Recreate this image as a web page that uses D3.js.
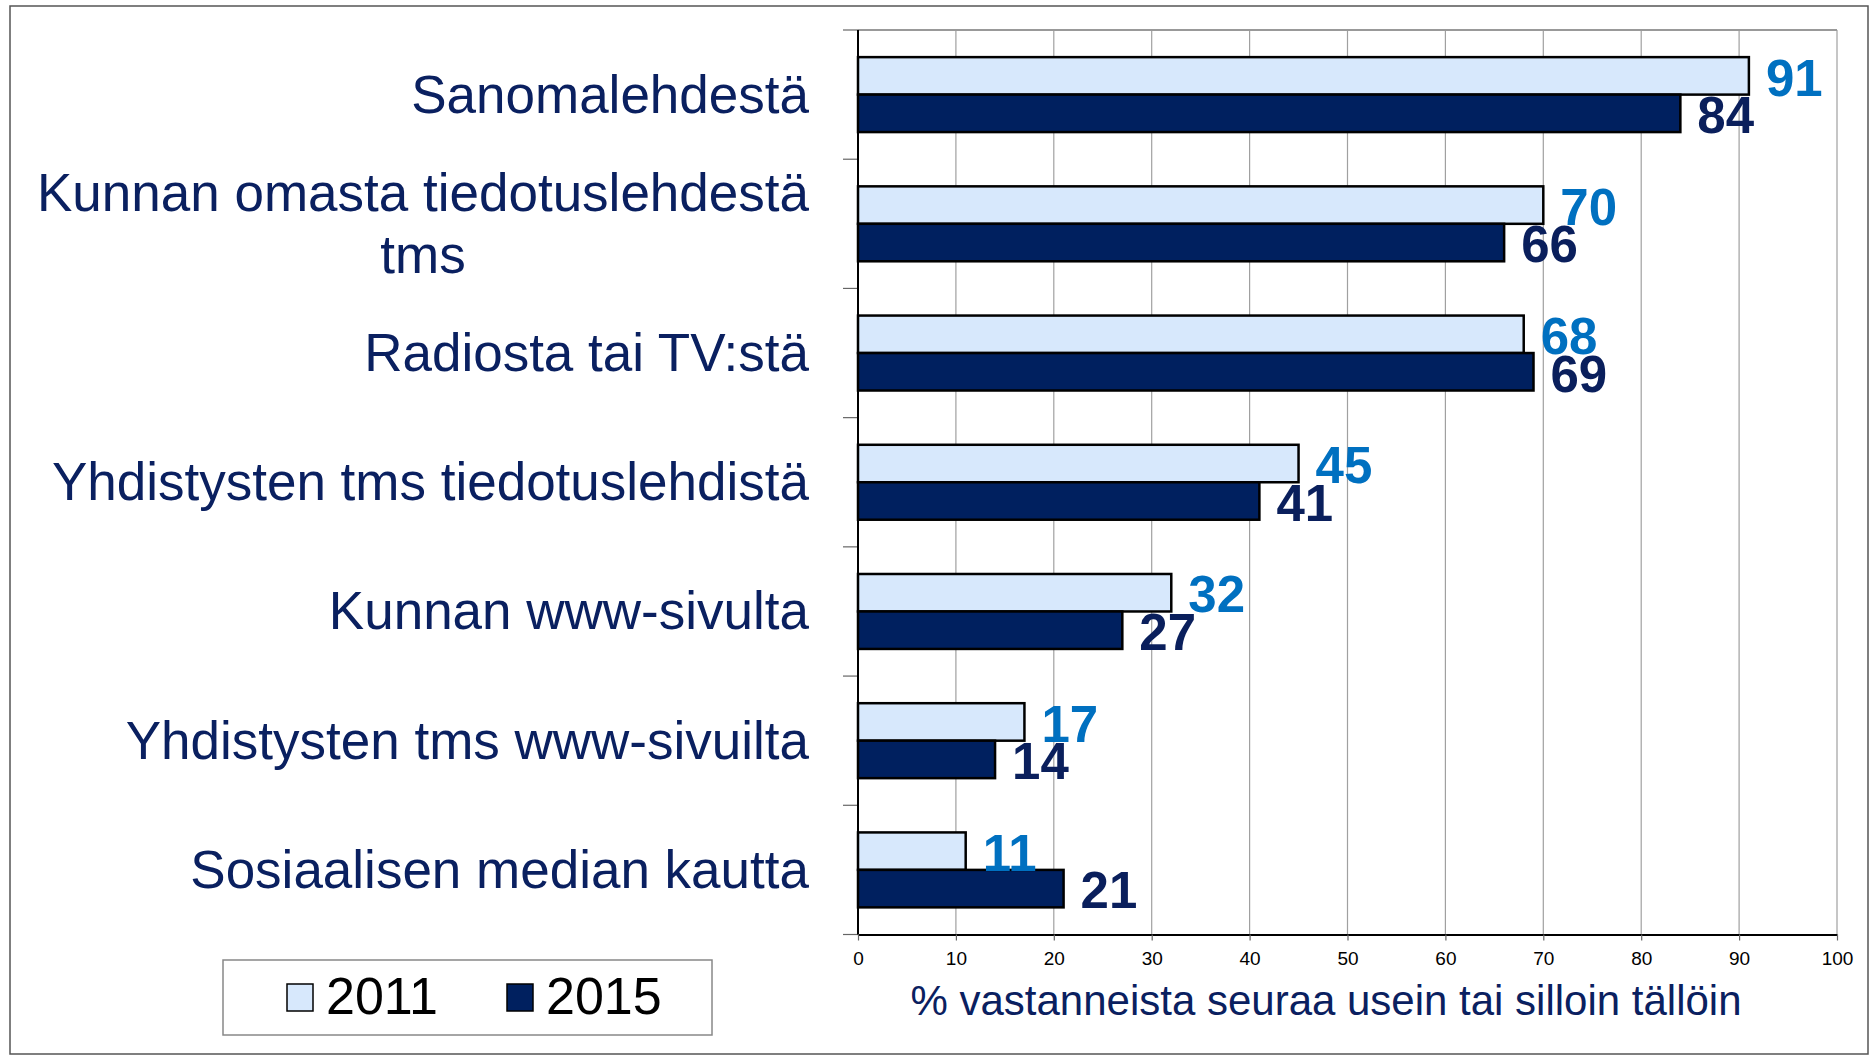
<!DOCTYPE html>
<html><head><meta charset="utf-8">
<script src="https://cdn.jsdelivr.net/npm/d3@7"></script>
<style>
html,body{margin:0;padding:0;background:#fff;}
svg{display:block;font-family:"Liberation Sans",Arial,Helvetica,sans-serif;}
</style></head>
<body>
<svg id="chart" width="1874" height="1056"></svg>
<script>
const categories = [
  "Sanomalehdestä",
  "Kunnan omasta tiedotuslehdestä\ntms",
  "Radiosta tai TV:stä",
  "Yhdistysten tms tiedotuslehdistä",
  "Kunnan www-sivulta",
  "Yhdistysten tms www-sivuilta",
  "Sosiaalisen median kautta"
];
const seriesNames = ["2011", "2015"];
const values2011 = [91, 70, 68, 45, 32, 17, 11];
const values2015 = [84, 66, 69, 41, 27, 14, 21];
const xTicks = [0, 10, 20, 30, 40, 50, 60, 70, 80, 90, 100];
const xTitle = "% vastanneista seuraa usein tai silloin tällöin";

const fills = {"2011": "#d7e8fc", "2015": "#00205f"};
const labelColors = {"2011": "#0070c0", "2015": "#0a1f5c"};
const navy = "#0a2060";

const svg = d3.select("#chart");
const plot = {left: 858, right: 1837, top: 30, bottom: 934.5};

// outer frame
svg.append("rect").attr("x", 10).attr("y", 6).attr("width", 1858).attr("height", 1048)
  .attr("fill", "none").attr("stroke", "#555").attr("stroke-width", 1.5);

const x = d3.scaleLinear().domain([0, 100]).range([plot.left, plot.right]);
const y = d3.scaleBand().domain(categories).range([plot.top, plot.bottom])
  .paddingInner(0.42).paddingOuter(0.21);
const ySub = d3.scaleBand().domain(seriesNames).range([0, y.bandwidth()]);

const rows = categories.map((c, i) => ({cat: c, vals: [
  {s: "2011", v: values2011[i]}, {s: "2015", v: values2015[i]}]}));

// gridlines
svg.append("g").selectAll("line").data(xTicks.filter(t => t > 0)).join("line")
  .attr("x1", d => x(d)).attr("x2", d => x(d))
  .attr("y1", plot.top).attr("y2", plot.bottom)
  .attr("stroke", "#a0a0a0").attr("stroke-width", 1.2);
// top border
svg.append("line").attr("x1", plot.left).attr("x2", plot.right)
  .attr("y1", plot.top).attr("y2", plot.top).attr("stroke", "#999").attr("stroke-width", 2);

// category ticks
const step = y.step();
const bounds = d3.range(categories.length + 1).map(i => plot.top + i * step);
svg.append("g").selectAll("line").data(bounds).join("line")
  .attr("x1", plot.left - 15).attr("x2", plot.left)
  .attr("y1", d => d).attr("y2", d => d)
  .attr("stroke", "#666").attr("stroke-width", 1.2);

// bars
const g = svg.append("g");
const groups = g.selectAll("g.row").data(rows).join("g")
  .attr("transform", d => `translate(0,${y(d.cat)})`);
groups.selectAll("rect").data(d => d.vals).join("rect")
  .attr("x", x(0)).attr("y", d => ySub(d.s))
  .attr("width", d => x(d.v) - x(0)).attr("height", ySub.bandwidth())
  .attr("fill", d => fills[d.s]).attr("stroke", "#000").attr("stroke-width", 2.5);
groups.selectAll("text").data(d => d.vals).join("text")
  .attr("x", d => x(d.v) + 17).attr("y", d => ySub(d.s) + ySub.bandwidth() + 1)
  .attr("fill", d => labelColors[d.s]).attr("font-size", 51).attr("font-weight", "bold")
  .text(d => d.v);

// axes lines
svg.append("line").attr("x1", plot.left).attr("x2", plot.left)
  .attr("y1", plot.top).attr("y2", plot.bottom).attr("stroke", "#000").attr("stroke-width", 2);

const xAxis = svg.append("g").attr("transform", `translate(0,${plot.bottom})`)
  .call(d3.axisBottom(x).tickValues(xTicks).tickSize(6).tickSizeOuter(0));
xAxis.select(".domain").attr("stroke", "#000").attr("stroke-width", 2);
xAxis.selectAll(".tick line").attr("stroke", "#666").attr("stroke-width", 1.2);
xAxis.selectAll(".tick text").attr("y", 30).attr("dy", 0)
  .attr("font-size", 19).attr("fill", "#000")
  .attr("font-family", "'Liberation Sans',Arial,sans-serif");

// category labels
const labelRight = 809;
categories.forEach((c, i) => {
  const lines = c.split("\n");
  const cy = y(c) + y.bandwidth() / 2;
  const lh = 62;
  const t = svg.append("text").attr("fill", navy).attr("font-size", 53);
  if (lines.length === 1) {
    t.attr("x", labelRight).attr("y", cy + 18).attr("text-anchor", "end").text(lines[0]);
  } else {
    const first = t.append("tspan").attr("x", labelRight).attr("y", cy - lh / 2 + 18)
      .attr("text-anchor", "end").text(lines[0]);
    const w = first.node().getComputedTextLength();
    const mid = labelRight - w / 2;
    first.attr("x", mid).attr("text-anchor", "middle");
    for (let k = 1; k < lines.length; k++) {
      t.append("tspan").attr("x", mid).attr("y", cy - lh / 2 + 18 + k * lh)
        .attr("text-anchor", "middle").text(lines[k]);
    }
  }
});

// x title
svg.append("text").attr("x", 1326).attr("y", 1015).attr("text-anchor", "middle")
  .attr("fill", navy).attr("font-size", 42).text(xTitle);

// legend
const lg = svg.append("g");
lg.append("rect").attr("x", 223).attr("y", 960).attr("width", 489).attr("height", 75)
  .attr("fill", "#fff").attr("stroke", "#888").attr("stroke-width", 1.5);
const legendX = {"2011": 287, "2015": 507};
seriesNames.forEach(s => {
  lg.append("rect").attr("x", legendX[s]).attr("y", 984).attr("width", 26).attr("height", 27)
    .attr("fill", fills[s]).attr("stroke", "#000").attr("stroke-width", 1.5);
  lg.append("text").attr("x", legendX[s] + 39).attr("y", 1014)
    .attr("font-size", 52).attr("fill", "#000").text(s);
});
</script>
</body></html>
